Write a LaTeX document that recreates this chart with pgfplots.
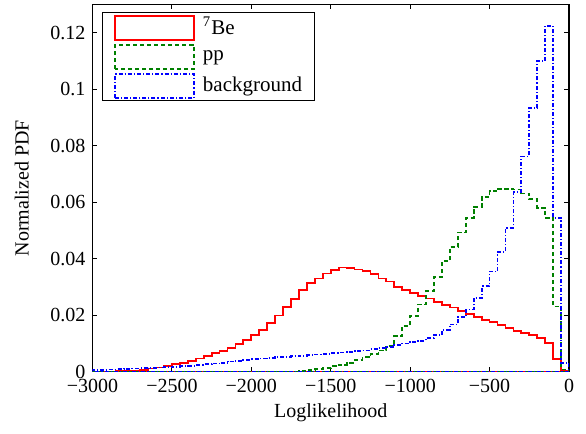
\documentclass[border=0pt]{standalone}
\usepackage{fontspec}
\setmainfont{Liberation Serif}
\usepackage{pgfplots}
\usepackage{pgfplotstable}
\pgfplotsset{compat=1.18}

\definecolor{mgreen}{rgb}{0,0.5,0}

% Binned log-likelihood distributions (left bin edges, bin width 50);
% the first and last two rows close each outline along the baseline
\pgfplotstableread{
x be pp bg
-3000 0 0 0
-3000 0.0001 0 0.0006
-2950 0.0001 0 0.0007
-2900 0.0001 0 0.0008
-2850 0.0002 0 0.0009
-2800 0.0003 0 0.0010
-2750 0.0004 0 0.0011
-2700 0.0007 0 0.0012
-2650 0.0011 0 0.0013
-2600 0.0015 0 0.0015
-2550 0.0021 0 0.0016
-2500 0.0027 0 0.0018
-2450 0.0032 0 0.0019
-2400 0.0039 0 0.0021
-2350 0.0047 0 0.0023
-2300 0.0056 0 0.0026
-2250 0.0065 0 0.0029
-2200 0.0074 0 0.0032
-2150 0.0085 0 0.0036
-2100 0.0098 0 0.0039
-2050 0.0113 0 0.0042
-2000 0.0131 0 0.0045
-1950 0.0149 0 0.0047
-1900 0.0172 0 0.0049
-1850 0.0199 0 0.0051
-1800 0.0228 0 0.0053
-1750 0.0257 0.0001 0.0055
-1700 0.0289 0.0003 0.0057
-1650 0.0313 0.0006 0.0059
-1600 0.0330 0.0010 0.0061
-1550 0.0348 0.0014 0.0064
-1500 0.0360 0.0019 0.0066
-1450 0.0369 0.0025 0.0068
-1400 0.0368 0.0032 0.0070
-1350 0.0362 0.0041 0.0072
-1300 0.0356 0.0051 0.0075
-1250 0.0345 0.0062 0.0079
-1200 0.0330 0.0075 0.0083
-1150 0.0319 0.0092 0.0088
-1100 0.0301 0.0125 0.0094
-1050 0.0289 0.0162 0.0100
-1000 0.0278 0.0197 0.0105
-950 0.0269 0.0238 0.0110
-900 0.0259 0.0285 0.0119
-850 0.0246 0.0336 0.0130
-800 0.0236 0.0391 0.0148
-750 0.0227 0.0442 0.0167
-700 0.0216 0.0493 0.0195
-650 0.0205 0.0545 0.0220
-600 0.0195 0.0584 0.0261
-550 0.0184 0.0618 0.0302
-500 0.0175 0.0639 0.0355
-450 0.0165 0.0648 0.0425
-400 0.0154 0.0648 0.0510
-350 0.0143 0.0645 0.0636
-300 0.0137 0.0631 0.0762
-250 0.0129 0.0610 0.0934
-200 0.0119 0.0580 0.1100
-150 0.0103 0.0545 0.1224
-100 0.0045 0.0231 0.0545
-50 0.0002 0.0008 0.0032
0 0.0002 0.0008 0.0032
0 0 0 0
-3000 0 0 0
}\histdata

\begin{document}
\fontsize{10pt}{12pt}\selectfont
\begin{tikzpicture}
\begin{axis}[
  name=main,
  scale only axis,
  width=238.25pt, height=183.6pt,
  xmin=-3000, xmax=0, ymin=0, ymax=0.13,
  axis line style={line width=0.6pt},
  tick style={line width=0.5pt, color=black},
  tick align=inside,
  major tick length=2.4pt,
  xtick={-3000,-2500,-2000,-1500,-1000,-500,0},
  xticklabels={−3000,−2500,−2000,−1500,−1000,−500,0},
  ytick={0,0.02,0.04,0.06,0.08,0.1,0.12},
  yticklabels={0,0.02,0.04,0.06,0.08,0.1,0.12},
  scaled y ticks=false,
  scaled x ticks=false,
  xlabel={Loglikelihood},
  ylabel={Normalized PDF},
  tick label style={font=\fontsize{10pt}{12pt}\selectfont},
  label style={font=\fontsize{10pt}{12pt}\selectfont},
  xlabel style={yshift=1pt},
  ylabel style={yshift=4pt},
  legend image code/.code={%
    \draw[#1] (0pt,-6pt) rectangle (39.5pt,6pt);
    \path (-1.5pt,0pt) (42pt,0pt);},
  legend cell align=left,
  legend style={at={(rel axis cs:0.0193,0.98)}, anchor=north west,
    draw=black, line width=0.5pt, inner xsep=4.5pt, inner ysep=1pt,
    row sep=1.6pt,
    nodes={inner sep=1.5pt, font=\fontsize{10.5pt}{12.6pt}\selectfont}},
]
\addplot[draw=red, line width=0.9pt, const plot mark left]
  table[x=x, y=be] {\histdata};
\addplot[draw=mgreen, line width=0.9pt, const plot mark left,
  dash pattern=on 2.2pt off 1.3pt]
  table[x=x, y=pp] {\histdata};
\addplot[draw=blue, line width=0.9pt, const plot mark left,
  dash pattern=on 2pt off 1pt on 0.6pt off 1pt]
  table[x=x, y=bg] {\histdata};
\legend{\textsuperscript{7}Be, pp, background}
\end{axis}
\path (main.south west) ++(-46.25pt,-30.65pt) coordinate (bbl);
\path (main.north east) ++(8.5pt,2.25pt) coordinate (btr);
\path (bbl) rectangle (btr);
\end{tikzpicture}
\end{document}
